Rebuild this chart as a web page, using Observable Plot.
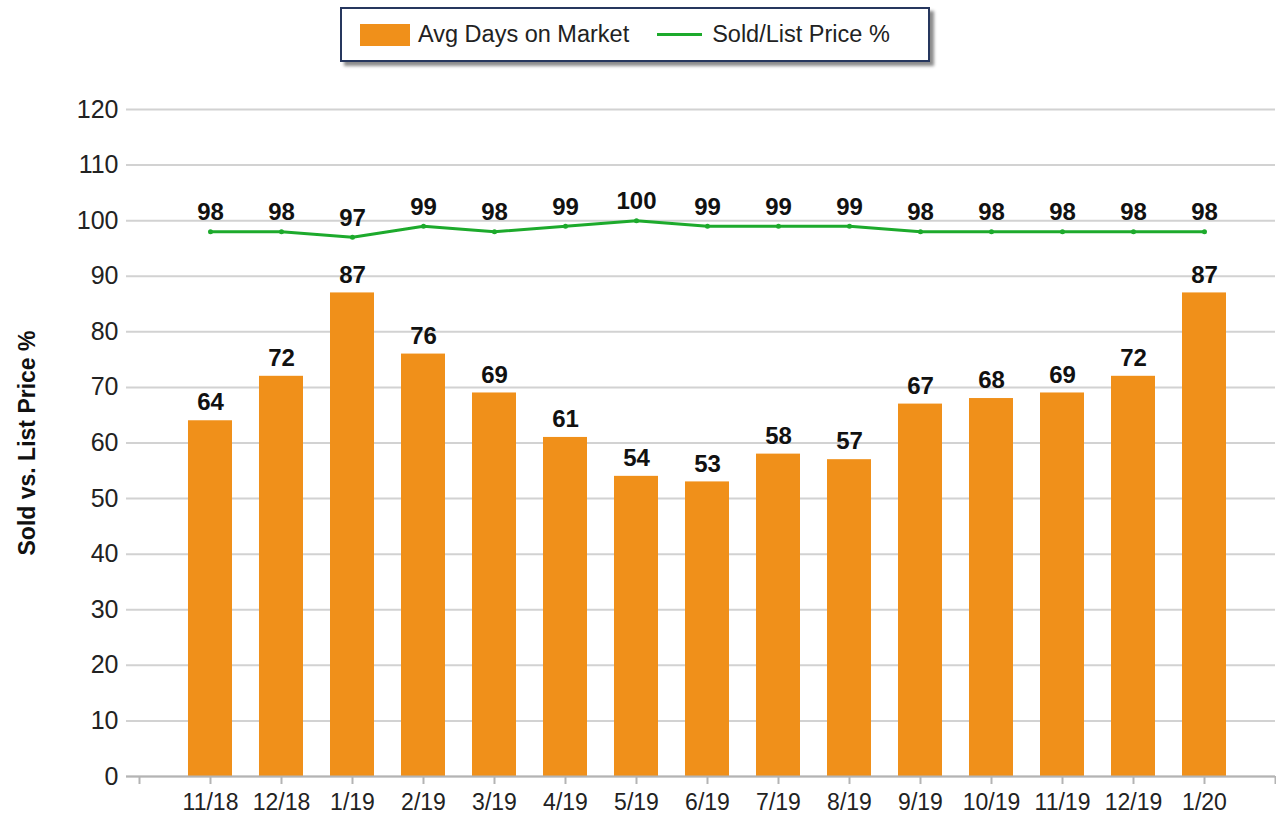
<!DOCTYPE html>
<html>
<head>
<meta charset="utf-8">
<script src="https://cdn.jsdelivr.net/npm/d3@7"></script>
<script src="https://cdn.jsdelivr.net/npm/@observablehq/plot@0.6"></script>
<style>
  html, body { margin: 0; padding: 0; background: #fff; }
  body { width: 1276px; height: 818px; overflow: hidden; font-family: "Liberation Sans", Arial, sans-serif; }
  #legend-wrap { position: relative; height: 70px; }
  #legend {
    position: absolute; left: 340px; top: 7px; width: 586px; height: 51px;
    border: 2px solid #26375e; background: #fff;
    box-shadow: 4px 4px 3px rgba(0,0,0,0.45);
    display: flex; align-items: center; font-size: 23.5px; color: #222;
  }
  .sw { display: inline-block; }
  #sw1 { width: 50px; height: 22px; background: #F0901A; margin-left: 18px; margin-right: 8px; }
  #sw2 { width: 45px; height: 3px; background: #1DAA2C; margin-left: 28px; margin-right: 10px; }
  #chart svg { display: block; }
</style>
</head>
<body>
<div id="legend-wrap">
  <div id="legend"><span class="sw" id="sw1"></span><span id="l1"></span><span class="sw" id="sw2"></span><span id="l2"></span></div>
</div>
<div id="chart"></div>
<script>
const months = ["11/18","12/18","1/19","2/19","3/19","4/19","5/19","6/19","7/19","8/19","9/19","10/19","11/19","12/19","1/20"];
const avgDays = [64,72,87,76,69,61,54,53,58,57,67,68,69,72,87];
const soldListPct = [98,98,97,99,98,99,100,99,99,99,98,98,98,98,98];
const seriesNames = ["Avg Days on Market", "Sold/List Price %"];
const yTitle = "Sold vs. List Price %";
const yTicks = d3.range(0, 121, 10);

document.getElementById("l1").textContent = seriesNames[0];
document.getElementById("l2").textContent = seriesNames[1];

const data = months.map((m, i) => ({i: i + 1, month: m, days: avgDays[i], pct: soldListPct[i]}));
const orange = "#F0901A";
const green = "#1DAA2C";

const chart = Plot.plot({
  width: 1276,
  height: 748,
  marginLeft: 126,
  marginRight: 1,
  marginTop: 39,
  marginBottom: 42,
  style: {fontFamily: "'Liberation Sans', Arial, sans-serif", color: "#222", background: "#fff"},
  x: {type: "linear", domain: [-0.183, 16]},
  y: {domain: [0, 120]},
  marks: [
    Plot.gridY(yTicks, {stroke: "#d2d2d2", strokeWidth: 2, strokeOpacity: 1}),
    Plot.rectY(data, {x1: d => d.i - 0.5, x2: d => d.i + 0.5, y: "days", fill: orange, insetLeft: 13.5, insetRight: 13.5}),
    Plot.ruleY([0], {stroke: "#b4b4b4", strokeWidth: 2}),
    Plot.axisY({ticks: yTicks, tickSize: 0, tickPadding: 8, fontSize: 25, label: null}),
    Plot.axisX({ticks: d3.range(0, 17), tickFormat: t => months[t - 1] ?? "", tickSize: 8, tickPadding: 9, fontSize: 23, stroke: "#b4b4b4", strokeWidth: 2, label: null}),
    Plot.line(data, {x: "i", y: "pct", stroke: green, strokeWidth: 3}),
    Plot.dot(data, {x: "i", y: "pct", fill: green, r: 2.5}),
    Plot.text(data, {x: "i", y: "days", text: d => String(d.days), dy: -18, fontSize: 24, fontWeight: "bold", fill: "#111"}),
    Plot.text(data, {x: "i", y: "pct", text: d => String(d.pct), dy: -19, fontSize: 24, fontWeight: "bold", fill: "#111"}),
    Plot.text([yTitle], {frameAnchor: "left", textAnchor: "middle", lineAnchor: "middle", dx: -99, rotate: -90, fontSize: 23, fontWeight: "bold", fill: "#111"})
  ]
});
document.getElementById("chart").appendChild(chart);
</script>
</body>
</html>
